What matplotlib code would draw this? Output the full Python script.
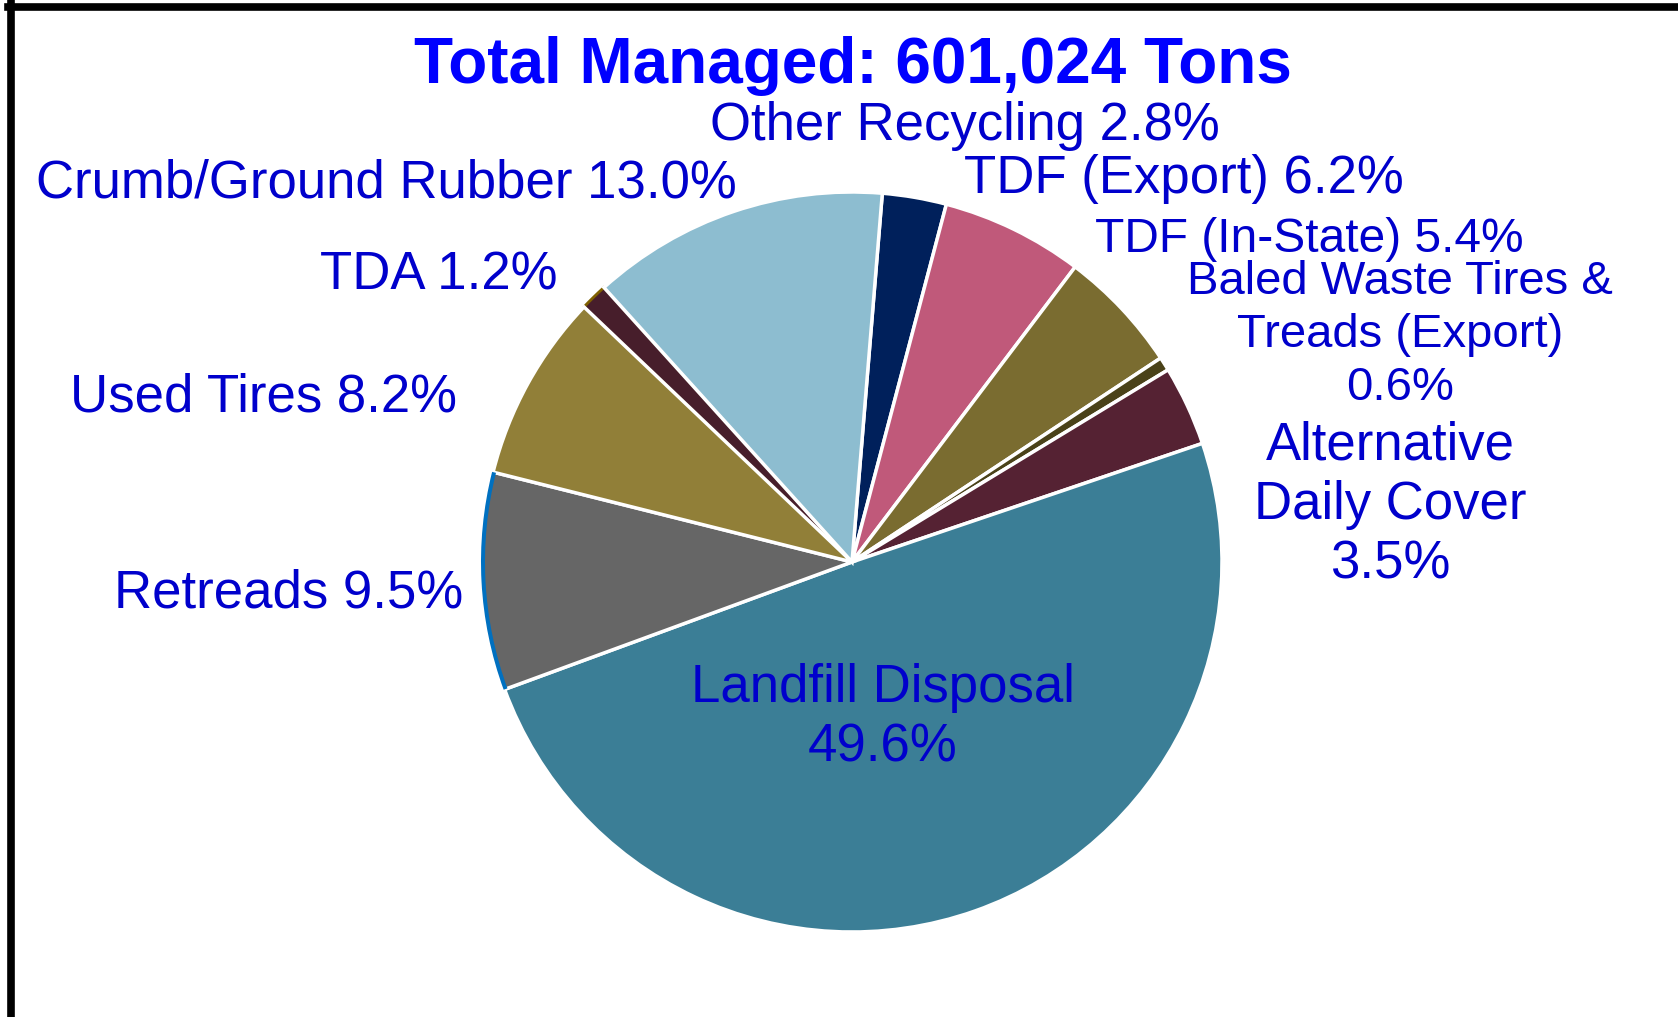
import matplotlib.pyplot as plt
import numpy as np
from matplotlib.patches import Wedge

# shares of total managed tires, clockwise from top
categories = ["Other Recycling", "TDF (Export)", "TDF (In-State)",
              "Baled Waste Tires & Treads (Export)", "Alternative Daily Cover",
              "Landfill Disposal", "Retreads", "Used Tires", "TDA",
              "Crumb/Ground Rubber"]
shares = [2.8, 6.2, 5.4, 0.6, 3.5, 49.6, 9.5, 8.2, 1.2, 13.0]
colors = ["#00205B", "#C0597A", "#7A6C30", "#4A4219", "#552233",
          "#3B7E96", "#666666", "#917F38", "#471E2B", "#8DBDD0"]
title = "Total Managed: 601,024 Tons"

# label text and position (pixels from top-left), font size
labels = [
    ("Other Recycling 2.8%", 965, 126, 38),
    ("TDF (Export) 6.2%", 1184, 179, 38),
    ("TDF (In-State) 5.4%", 1309, 240, 34.5),
    ("Baled Waste Tires &\nTreads (Export)\n0.6%", 1400, 335, 34),
    ("Alternative\nDaily Cover\n3.5%", 1390, 505, 38),
    ("Landfill Disposal\n49.6%", 883, 718, 38),
    ("Retreads 9.5%", 289, 594, 38),
    ("Used Tires 8.2%", 264, 398, 38),
    ("TDA 1.2%", 439, 275, 38),
    ("Crumb/Ground Rubber 13.0%", 386, 184, 38),
]

W, H = 1678, 1017
fig = plt.figure(figsize=(W / 100, H / 100), dpi=100)
ax = fig.add_axes([0, 0, 1, 1])

plt.rcParams['font.family'] = ['Liberation Sans', 'DejaVu Sans']

cx, cy, r = 852, H - 562, 370
wedges, _ = ax.pie(shares, colors=colors, startangle=85.3, counterclock=False,
                   center=(cx, cy), radius=r, frame=True,
                   wedgeprops=dict(edgecolor="white", linewidth=2.5))
ax.set_xlim(0, W)
ax.set_ylim(0, H)
ax.set_aspect("equal")
ax.axis("off")

# gold outline on TDA slice, blue rim on Retreads
tda = wedges[categories.index("TDA")]
tda.set_edgecolor("#7F6000")
tda.set_linewidth(2)
tda.set_zorder(wedges[0].get_zorder() - 0.5)
ret = wedges[categories.index("Retreads")]
ax.add_patch(Wedge((cx, cy), r + 1, ret.theta1, ret.theta2, width=4,
                   facecolor="#0070C0", edgecolor="none"))

for txt, x, y, fs in labels:
    ax.text(x, H - y, txt, ha="center", va="center", fontsize=fs,
            color="#0000CC", linespacing=1.25)

ax.text(853, H - 66, title, ha="center", va="center", fontsize=46,
        fontweight="bold", color="#0000FF")

# black frame (left and top visible)
fig.add_artist(plt.Line2D([11 / W, 11 / W], [0, 1 - 3 / H], color="black",
                          linewidth=5.5, transform=fig.transFigure))
fig.add_artist(plt.Line2D([8 / W, 1], [1 - 7 / H, 1 - 7 / H], color="black",
                          linewidth=5.5, transform=fig.transFigure))

fig.savefig("out.png", dpi=100, facecolor="white")
